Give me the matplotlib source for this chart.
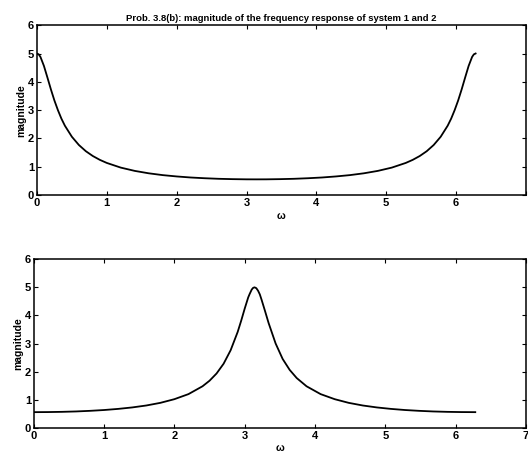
import matplotlib
matplotlib.use('Agg')
from matplotlib import pyplot as plt

# magnitude readings, system 1 (peaks at 0 and 2*pi)
w1 = [0, 0.025, 0.05, 0.1, 0.15, 0.2, 0.25, 0.3, 0.35, 0.4, 0.5, 0.6, 0.7, 0.8, 0.9,
      1.0, 1.2, 1.4, 1.6, 1.8, 2.0, 2.2, 2.4, 2.6, 2.8, 3.0, 3.14,
      3.28, 3.48, 3.68, 3.88, 4.08, 4.28, 4.48, 4.68, 4.88, 5.08, 5.28, 5.38,
      5.48, 5.58, 5.68, 5.78, 5.88, 5.93, 5.98, 6.03, 6.08, 6.13, 6.18, 6.23, 6.255, 6.28]
mag1 = [5.00, 4.97, 4.88, 4.56, 4.15, 3.73, 3.34, 3.00, 2.70, 2.45, 2.06, 1.77, 1.55, 1.38, 1.245,
        1.136, 0.971, 0.855, 0.770, 0.706, 0.659, 0.622, 0.596, 0.576, 0.564, 0.557, 0.556,
        0.557, 0.564, 0.576, 0.596, 0.622, 0.659, 0.706, 0.770, 0.855, 0.971, 1.136, 1.245,
        1.38, 1.55, 1.77, 2.06, 2.45, 2.70, 3.00, 3.34, 3.73, 4.15, 4.56, 4.88, 4.97, 5.00]

# system 2 (peak at pi)
w2 = [0, 0.2, 0.4, 0.6, 0.8, 1.0, 1.2, 1.4, 1.6, 1.8, 2.0, 2.2, 2.4, 2.5, 2.6, 2.7,
      2.8, 2.9, 2.95, 3.0, 3.05, 3.07, 3.1, 3.12, 3.14, 3.165, 3.19, 3.215, 3.24, 3.29,
      3.34, 3.44, 3.54, 3.64, 3.74, 3.88, 4.08, 4.28, 4.48, 4.68, 4.88, 5.08, 5.28,
      5.48, 5.68, 5.88, 6.08, 6.28]
mag2 = [0.556, 0.559, 0.567, 0.581, 0.603, 0.632, 0.672, 0.724, 0.793, 0.887, 1.018, 1.198,
        1.477, 1.675, 1.933, 2.28, 2.76, 3.41, 3.81, 4.24, 4.64, 4.76, 4.92, 4.98, 5.00,
        4.97, 4.88, 4.75, 4.56, 4.15, 3.73, 3.00, 2.45, 2.06, 1.77, 1.477, 1.198, 1.018,
        0.887, 0.793, 0.724, 0.672, 0.632, 0.603, 0.581, 0.567, 0.559, 0.556]

xticks = [0, 1, 2, 3, 4, 5, 6, 7]
yticks = [0, 1, 2, 3, 4, 5, 6]

plt.rcParams['font.family'] = ['Liberation Sans', 'DejaVu Sans']

fig = plt.figure(figsize=(5.28, 4.58), dpi=100)
ax1 = fig.add_axes([0.070, 0.574, 0.926, 0.371])
ax2 = fig.add_axes([0.064, 0.066, 0.932, 0.368])

for ax, w, m in [(ax1, w1, mag1), (ax2, w2, mag2)]:
    ax.plot(w, m, color='black', linewidth=1.3)
    ax.set_xlim(0, 7)
    ax.set_ylim(0, 6)
    ax.set_xticks(xticks)
    ax.set_yticks(yticks)
    ax.tick_params(direction='in', top=True, right=True, length=3, labelsize=8, pad=2)
    for lab in ax.get_xticklabels() + ax.get_yticklabels():
        lab.set_fontweight('bold')
    for s in ax.spines.values():
        s.set_linewidth(1.1)
    ax.set_ylabel('magnitude', fontsize=7.5, fontweight='bold', labelpad=1)
    ax.set_xlabel('ω', fontsize=7.5, fontweight='bold', labelpad=2)

ax1.set_xticklabels(['0', '1', '2', '3', '4', '5', '6', ''])
ax1.set_title('Prob. 3.8(b): magnitude of the frequency response of system 1 and 2',
              fontsize=6.8, fontweight='bold', pad=3)

fig.savefig('out.png', dpi=100)
